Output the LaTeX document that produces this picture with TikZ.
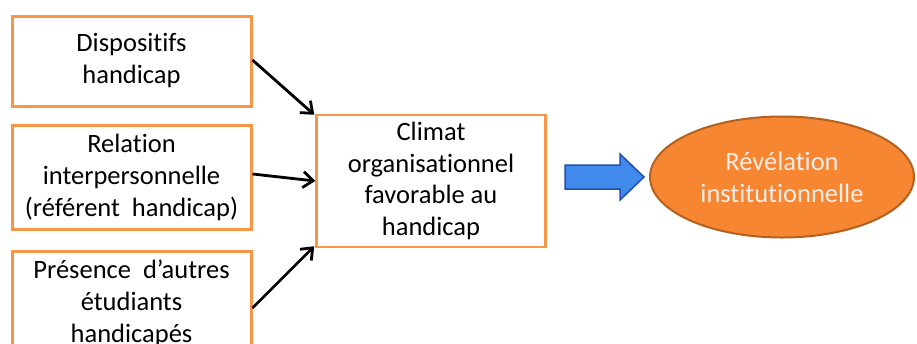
\documentclass[tikz,border=0pt]{standalone}
\usepackage{fontspec}
\setmainfont{Carlito}[Ligatures=NoCommon]
\usetikzlibrary{arrows.meta,shapes.geometric}
\definecolor{boxorange}{HTML}{F79646}
\definecolor{ellfill}{HTML}{F68632}
\definecolor{elldraw}{HTML}{B4601E}
\definecolor{arrfill}{HTML}{4189EA}
\definecolor{arrdraw}{HTML}{1F4FB0}
\definecolor{elltext}{HTML}{FFEDE6}
\tikzset{
  srcbox/.style={draw=boxorange, line width=3pt, fill=white, minimum width=239pt, inner sep=0pt,
    align=center, font=\fontsize{26.5}{32}\selectfont},
  midbox/.style={draw=boxorange, line width=2.5pt, fill=white, minimum width=229pt, minimum height=132pt,
    inner sep=0pt, align=center, font=\fontsize{26.5}{31.5}\selectfont},
  goal/.style={ellipse, draw=elldraw, line width=2pt, fill=ellfill, minimum width=264pt, minimum height=121pt,
    inner sep=0pt, align=center, text=elltext, font=\fontsize{26.5}{32}\selectfont},
  link/.style={draw=black, line width=2.8pt, -{Straight Barb[length=10pt,width=16pt,line width=2.8pt]}},
  bigarrow/.style={draw=arrdraw, fill=arrfill, line width=1.5pt, line join=miter}
}
\begin{document}
\begin{tikzpicture}[x=1pt,y=-1pt]
\useasboundingbox (0,0) rectangle (917,343);
\node[srcbox, minimum height=90pt] (b1) at (131.5,61) {Dispositifs\\handicap};
\node[srcbox, minimum height=104pt] (b2) at (131.5,177) {Relation\\interpersonnelle\\(référent~ handicap)};
\node[srcbox, minimum height=104pt] (b3) at (131.5,303) {Présence~ d’autres\\étudiants\\handicapés};
\node[midbox] (c) at (431,181) {Climat\\organisationnel\\favorable au\\handicap};
\node[goal] (g) at (782,177) {Révélation\\institutionnelle};
\coordinate (ba) at (565,177);
\draw[bigarrow] (ba) ++(0,-12) -- ++(55,0) -- ++(0,-11) -- ++(24,23) -- ++(-24,23) -- ++(0,-11) -- ++(-55,0) -- cycle;
\draw[link] ([yshift=1pt]b1.east) -- ([xshift=-1pt,yshift=-1pt]c.north west);
\draw[link] ([yshift=3pt]b2.east) -- (c.west);
\draw[link] ([yshift=-5pt]b3.east) -- ([xshift=-1pt,yshift=2pt]c.south west);
\end{tikzpicture}
\end{document}
